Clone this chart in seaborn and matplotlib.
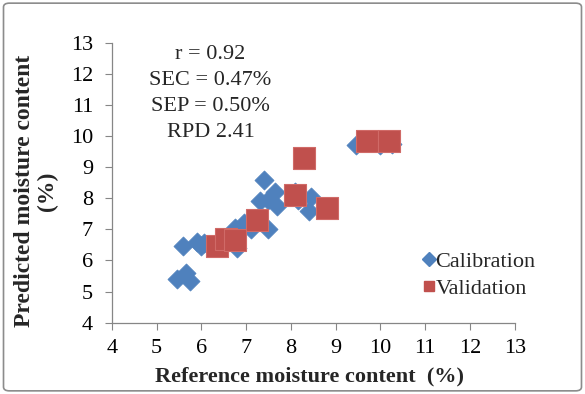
import matplotlib
matplotlib.use("Agg")
import matplotlib.pyplot as plt
import seaborn as sns
import pandas as pd
from matplotlib.lines import Line2D
from matplotlib.patches import FancyBboxPatch

# calibration set (reference %, predicted %)
cal_ref = [5.45, 5.65, 5.75, 5.6, 5.9, 6.05, 6.0, 6.8, 6.75, 6.95, 7.1, 7.5,
           7.4, 7.3, 7.5, 7.7, 7.65, 8.1, 8.15, 8.45, 8.4, 9.45, 10.0, 10.25]
cal_pred = [5.4, 5.6, 5.35, 6.45, 6.6, 6.55, 6.45, 6.4, 7.05, 7.2, 7.0, 7.0,
            8.6, 7.9, 7.95, 7.75, 8.2, 8.2, 7.95, 8.05, 7.6, 9.7, 9.7, 9.75]

# validation set
val_ref = [6.35, 6.55, 6.75, 7.25, 8.1, 8.3, 8.8, 9.7, 10.2]
val_pred = [6.45, 6.7, 6.65, 7.3, 8.1, 9.3, 7.7, 9.85, 9.85]

stats_lines = ["r = 0.92", "SEC = 0.47%", "SEP = 0.50%", "RPD 2.41"]
ticks = list(range(4, 14))

df_cal = pd.DataFrame({"ref": cal_ref, "pred": cal_pred})
df_val = pd.DataFrame({"ref": val_ref, "pred": val_pred})

sns.set_theme(style="white")
plt.rcParams["font.family"] = ["Liberation Serif", "DejaVu Serif"]

blue = "#4F81BD"
red = "#C0504D"

fig = plt.figure(figsize=(5.85, 3.94), dpi=100)
ax = fig.add_axes([0.191, 0.181, 0.689, 0.711])

sns.scatterplot(data=df_cal, x="ref", y="pred", marker="D", s=95,
                color=blue, edgecolor=blue, linewidth=0.5, ax=ax, zorder=3)
sns.scatterplot(data=df_val, x="ref", y="pred", marker="s", s=240,
                color=red, edgecolor="#D06A67", linewidth=0.8, ax=ax, zorder=4)

ax.set_xlim(4, 13)
ax.set_ylim(4, 13)
ax.set_xticks(ticks)
ax.set_yticks(ticks)
ax.tick_params(axis="both", direction="out", length=5, width=0.8,
               color="#868686", labelsize=16, labelcolor="black",
               bottom=True, left=True)
ax.tick_params(axis="x", pad=7)
ax.tick_params(axis="y", pad=8.5)
for side in ["top", "right"]:
    ax.spines[side].set_visible(False)
for side in ["left", "bottom"]:
    ax.spines[side].set_color("#868686")
    ax.spines[side].set_linewidth(0.9)

ax.set_xlabel("Reference moisture content  (%)", fontsize=16, fontweight="bold")
ax.set_ylabel("Predicted moisture content\n(%)", fontsize=17, fontweight="bold",
              linespacing=1.1)
ax.xaxis.set_label_coords(0.49, -0.155)
ax.yaxis.set_label_coords(-0.133, 0.47)

ax.text(0.245, 0.993, "\n".join(stats_lines), transform=ax.transAxes, ha="center", va="top",
        fontsize=16, linespacing=1.52)

handles = [
    Line2D([], [], marker="D", linestyle="", color=blue, markersize=7, label="Calibration"),
    Line2D([], [], marker="s", linestyle="", color=red, markersize=7.5, label="Validation"),
]
ax.legend(handles=handles, loc="upper left", bbox_to_anchor=(0.72, 0.31), frameon=False,
          fontsize=16, handletextpad=-0.2, handlelength=1.0, borderpad=0.2, labelspacing=0.3)

fig.patches.append(FancyBboxPatch((0.006, 0.008), 0.988, 0.984, boxstyle="round,pad=0,rounding_size=0.01",
                                  transform=fig.transFigure, fill=False, edgecolor="#8C8C8C",
                                  linewidth=1.2))

fig.savefig("out.png", dpi=100)
